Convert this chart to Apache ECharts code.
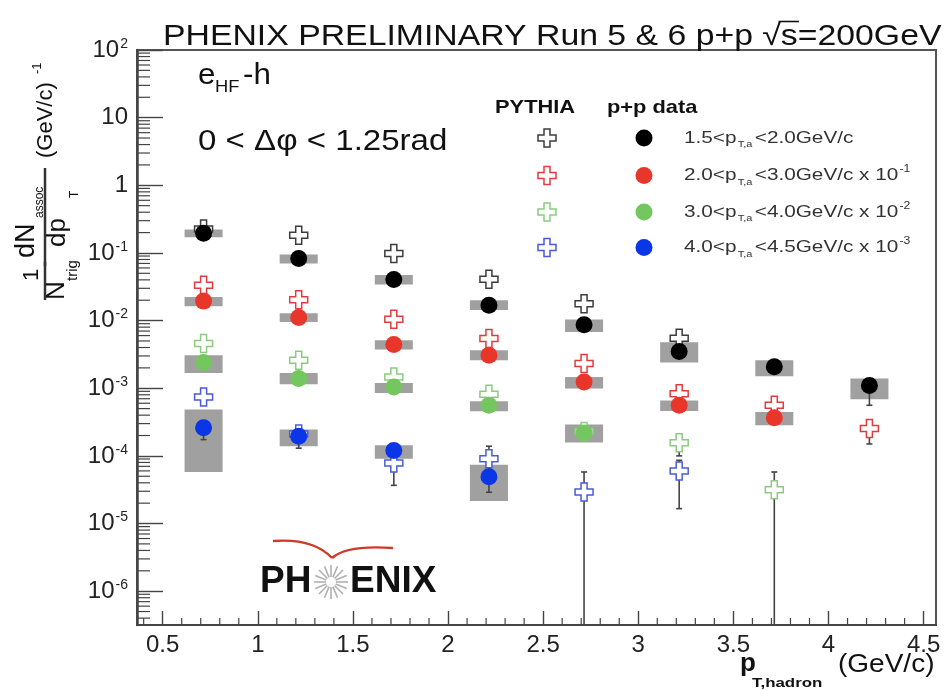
<!DOCTYPE html>
<html>
<head>
<meta charset="utf-8">
<script src="https://cdn.jsdelivr.net/npm/echarts@6/dist/echarts.min.js"></script>
<style>
  html, body { margin: 0; padding: 0; background: #fff; }
  #chart { width: 946px; height: 690px; }
</style>
</head>
<body>
<div id="chart"></div>
<script>
// Associated-hadron pT bin centres (GeV/c)
const ptHadron = [0.715, 1.215, 1.715, 2.215, 2.715, 3.215, 3.715, 4.215];

// p+p data (already multiplied by the legend scale factor)
const data15 = [0.196, 0.0826, 0.0405, 0.0169, 0.0087, 0.0035, 0.00207, 0.0011];
const data20 = [0.0194, 0.0111, 0.00443, 0.00308, 0.00124, 0.00056, 0.000365, null];
const data30 = [0.0024, 0.00139, 0.00104, 0.00056, 0.000218, null, null, null];
const data40 = [0.00026, 0.000195, 0.00012, 0.000049, null, null, null, null];

// systematic uncertainty bands (low / high)
const sys15Lo = [0.170, 0.070, 0.0342, 0.0143, 0.0068, 0.0024, 0.0015, 0.00069];
const sys15Hi = [0.223, 0.095, 0.047, 0.020, 0.0104, 0.0048, 0.0026, 0.00139];
const sys20Lo = [0.0163, 0.00957, 0.00373, 0.0026, 0.00099, 0.00046, 0.000284, null];
const sys20Hi = [0.0224, 0.01285, 0.00513, 0.00365, 0.00147, 0.00066, 0.000445, null];
const sys30Lo = [0.00168, 0.00115, 0.00085, 0.000457, 0.000158, null, null, null];
const sys30Hi = [0.00308, 0.00168, 0.0012, 0.00064, 0.00029, null, null, null];
const sys40Lo = [0.0000578, 0.000139, 0.000091, 0.0000216, null, null, null, null];
const sys40Hi = [0.000484, 0.000245, 0.000144, 0.000074, null, null, null, null];

// statistical error bars of the data (low / high)
const stat15Lo = [null, null, null, null, null, null, null, 0.00056];
const stat15Hi = [null, null, null, null, null, null, null, 0.0013];
const stat40Lo = [0.000174, 0.00013, null, 0.000029, null, null, null, null];
const stat40Hi = [0.00032, 0.000195, null, 0.00007, null, null, null, null];

// PYTHIA
const pythia15 = [0.225, 0.183, 0.0984, 0.041, 0.0178, 0.0055, null, null];
const pythia20 = [0.0334, 0.0203, 0.0105, 0.00543, 0.00232, 0.00083, 0.00056, 0.000253];
const pythia30 = [0.00458, 0.00259, 0.00147, 0.000815, 0.00023, 0.000156, 0.0000317, null];
const pythia40 = [0.00074, 0.00021, 0.0000785, 0.000091, 0.0000292, 0.00006, null, null];

// PYTHIA statistical error bars (1e-7 = runs below the frame)
const pythia20Lo = [null, null, null, null, null, null, null, 0.00015];
const pythia20Hi = [null, null, null, null, null, null, null, 0.0003];
const pythia30Lo = [null, null, null, null, null, 0.0001, 1e-7, null];
const pythia30Hi = [null, null, null, null, null, 0.00021, 0.0000578, null];
const pythia40Lo = [null, null, 0.0000367, 0.00006, 1e-7, 0.0000166, null, null];
const pythia40Hi = [null, null, 0.0001, 0.000139, 0.0000578, 0.000086, null, null];

// legend entries: trigger pT range and scale exponent
const legendRanges = [['1.5', '2.0', ''], ['2.0', '3.0', '-1'], ['3.0', '4.0', '-2'], ['4.0', '4.5', '-3']];

const FONT = '"Liberation Sans", Arial, Helvetica, sans-serif';
const X_MIN = 0.365, X_MAX = 4.565;
const Y_MIN = Math.pow(10, -6.5), Y_MAX = 100;
const BOX_HALF = 0.1;
const AXIS_COLOR = '#444';
const BOX_COLOR = '#a0a0a0';
const ERR_COLOR = '#444';
const CROSS = 'path://M1,0H2V1H3V2H2V3H1V2H0V1H1Z';

const groups = [
  { data: data15, lo: sys15Lo, hi: sys15Hi, sLo: stat15Lo, sHi: stat15Hi, py: pythia15, pLo: null, pHi: null, color: '#000000', pcolor: '#3c3c3c' },
  { data: data20, lo: sys20Lo, hi: sys20Hi, sLo: null, sHi: null, py: pythia20, pLo: pythia20Lo, pHi: pythia20Hi, color: '#e8362a', pcolor: '#e03c3c' },
  { data: data30, lo: sys30Lo, hi: sys30Hi, sLo: null, sHi: null, py: pythia30, pLo: pythia30Lo, pHi: pythia30Hi, color: '#74c75e', pcolor: '#8acb80' },
  { data: data40, lo: sys40Lo, hi: sys40Hi, sLo: stat40Lo, sHi: stat40Hi, py: pythia40, pLo: pythia40Lo, pHi: pythia40Hi, color: '#0b36e8', pcolor: '#4a5ad8' }
];

function rows3(a, b) {
  if (!a || !b) return [];
  return ptHadron.map((x, i) => [x, a[i], b[i]]).filter(r => r[1] != null && r[2] != null);
}
function points(v) {
  return ptHadron.map((x, i) => [x, v[i]]).filter(r => r[1] != null);
}

function boxItem(params, api) {
  const x = api.value(0);
  const p0 = api.coord([x - BOX_HALF, api.value(2)]);
  const p1 = api.coord([x + BOX_HALF, api.value(1)]);
  return { type: 'rect', shape: { x: p0[0], y: p0[1], width: p1[0] - p0[0], height: p1[1] - p0[1] },
           style: { fill: BOX_COLOR } };
}
function errItem(params, api) {
  const x = api.value(0);
  const loRaw = api.value(1);
  const lo = Math.max(loRaw, Y_MIN);
  const a = api.coord([x, api.value(2)]);
  const b = api.coord([x, lo]);
  const st = { stroke: ERR_COLOR, lineWidth: 1.6 };
  const kids = [
    { type: 'line', shape: { x1: a[0], y1: a[1], x2: b[0], y2: b[1] }, style: st },
    { type: 'line', shape: { x1: a[0] - 3, y1: a[1], x2: a[0] + 3, y2: a[1] }, style: st }
  ];
  if (loRaw > Y_MIN) kids.push({ type: 'line', shape: { x1: b[0] - 3, y1: b[1], x2: b[0] + 3, y2: b[1] }, style: st });
  return { type: 'group', children: kids };
}

// minor tick positions of both axes
const yMinorTicks = [];
for (let k = -7; k <= 1; k++) for (let m = 2; m <= 9; m++) {
  const v = m * Math.pow(10, k);
  if (v > Y_MIN && v < Y_MAX) yMinorTicks.push(v);
}
const xMinorTicks = [];
for (let i = 4; i <= 45; i++) if (i % 5 !== 0) xMinorTicks.push(i / 10);

const series = [];
groups.forEach(g => {
  series.push({ type: 'custom', renderItem: boxItem, data: rows3(g.lo, g.hi), z: 2, silent: true, encode: { x: 0, y: [1, 2] } });
  series.push({ type: 'custom', renderItem: errItem, data: rows3(g.pLo, g.pHi), z: 3, silent: true, encode: { x: 0, y: [1, 2] } });
  series.push({ type: 'custom', renderItem: errItem, data: rows3(g.sLo, g.sHi), z: 3, silent: true, encode: { x: 0, y: [1, 2] } });
});
groups.forEach(g => {
  series.push({ type: 'scatter', data: points(g.py), symbol: CROSS, symbolSize: 18, z: 4, silent: true,
    itemStyle: { color: '#ffffff', borderColor: g.pcolor, borderWidth: 1.5, opacity: 1 } });
});
groups.forEach(g => {
  series.push({ type: 'scatter', data: points(g.data), symbol: 'circle', symbolSize: 17, z: 5, silent: true,
    itemStyle: { color: g.color, opacity: 1 } });
});
series.push({ type: 'custom', silent: true, z: 6, clip: false, data: yMinorTicks.map(v => [X_MIN, v]),
  renderItem: (p, api) => { const c = api.coord([X_MIN, api.value(1)]);
    return { type: 'line', shape: { x1: c[0], y1: c[1], x2: c[0] + 13, y2: c[1] }, style: { stroke: AXIS_COLOR, lineWidth: 1.2 } }; } });
series.push({ type: 'custom', silent: true, z: 6, clip: false, data: xMinorTicks.map(v => [v, Y_MIN]),
  renderItem: (p, api) => { const c = api.coord([api.value(0), Y_MIN]);
    return { type: 'line', shape: { x1: c[0], y1: c[1], x2: c[0], y2: c[1] - 7 }, style: { stroke: AXIS_COLOR, lineWidth: 1.2 } }; } });

// ---------- text and decorations ----------
function txt(x, y, text, size, opts) {
  opts = opts || {};
  return { type: 'text', x: x, y: y, scaleX: opts.sx || 1, z: 20, silent: true,
    style: { text: text, font: (opts.bold ? 'bold ' : '') + size + 'px ' + FONT, fill: opts.fill || '#111',
             align: opts.align || 'left', verticalAlign: 'middle', rich: opts.rich } };
}
function crossPts(cx, cy, s) {
  const h = s / 2, t = s / 6;
  return [[cx - t, cy - h], [cx + t, cy - h], [cx + t, cy - t], [cx + h, cy - t], [cx + h, cy + t], [cx + t, cy + t],
          [cx + t, cy + h], [cx - t, cy + h], [cx - t, cy + t], [cx - h, cy + t], [cx - h, cy - t], [cx - t, cy - t]];
}
const measureCtx = document.createElement('canvas').getContext('2d');
function textWidth(text, font) { measureCtx.font = font; return measureCtx.measureText(text).width; }

const graphics = [];
// title, with the bar of the square root drawn over the "s"
const TITLE_HEAD = 'PHENIX PRELIMINARY Run 5 & 6 p+p \u221A';
const TITLE_TAIL = 's=200GeV';
const TITLE_FONT = '29px ' + FONT, TITLE_SX = 1.165, TITLE_X = 163;
graphics.push(txt(TITLE_X, 37, TITLE_HEAD + TITLE_TAIL, 29, { sx: TITLE_SX }));
const barX0 = TITLE_X + (textWidth(TITLE_HEAD, TITLE_FONT) - 2) * TITLE_SX;
const barX1 = TITLE_X + (textWidth(TITLE_HEAD + 's', TITLE_FONT) + 1) * TITLE_SX;
graphics.push({ type: 'line', z: 20, silent: true, shape: { x1: barX0, y1: 21.5, x2: barX1, y2: 21.5 }, style: { stroke: '#111', lineWidth: 1.6 } });

// annotations
graphics.push(txt(198, 76, 'e', 29, { sx: 1.08 }));
graphics.push(txt(215, 87, 'HF', 17, { sx: 1.08 }));
graphics.push(txt(243, 76, '-h', 29, { sx: 1.08 }));
graphics.push(txt(198, 142, '0 < \u0394\u03C6 < 1.25rad', 29, { sx: 1.14 }));

// legend
graphics.push(txt(495, 108, 'PYTHIA', 19, { bold: true, sx: 1.15 }));
graphics.push(txt(607, 108, 'p+p data', 19, { bold: true, sx: 1.15 }));
const legendY = [138, 175.5, 212, 247.5];
const richLegend = {
  t: { font: '17px ' + FONT, fill: '#333' },
  sub: { font: '9px ' + FONT, fill: '#333', padding: [14, 2, 0, 1] },
  sup: { font: '10px ' + FONT, fill: '#333', padding: [0, 0, 12, 1] }
};
groups.forEach((g, i) => {
  const y = legendY[i];
  graphics.push({ type: 'polygon', z: 20, silent: true, shape: { points: crossPts(547, y, 18) },
    style: { fill: '#fff', stroke: g.pcolor, lineWidth: 1.5 } });
  graphics.push({ type: 'circle', z: 20, silent: true, shape: { cx: 644, cy: y, r: 8.5 }, style: { fill: g.color } });
  const r = legendRanges[i];
  let s = '{t|' + r[0] + '<p}{sub|T,a}{t|<' + r[1] + 'GeV/c}';
  if (r[2]) s += '{t| x 10}{sup|' + r[2] + '}';
  graphics.push(txt(684, y, s, 17, { sx: 1.22, rich: richLegend, fill: '#333' }));
});

// y-axis title, written bottom-to-top
const yTitleParts = [
  { type: 'text', x: 35, y: 32, style: { text: '1', font: '22px ' + FONT, fill: '#111', align: 'center', verticalAlign: 'middle' } },
  { type: 'line', shape: { x1: 10, y1: 45, x2: 48, y2: 45 }, style: { stroke: '#333', lineWidth: 2.5 } },
  { type: 'text', x: 10, y: 57, style: { text: 'N', font: '26px ' + FONT, fill: '#111', align: 'left', verticalAlign: 'middle' } },
  { type: 'text', x: 29, y: 73, style: { text: 'trig', font: '15px ' + FONT, fill: '#111', align: 'left', verticalAlign: 'middle' } },
  { type: 'line', shape: { x1: 44, y1: 45, x2: 142, y2: 45 }, style: { stroke: '#333', lineWidth: 2.5 } },
  { type: 'text', x: 52, y: 27, style: { text: 'dN', font: '27px ' + FONT, fill: '#111', align: 'left', verticalAlign: 'middle' } },
  { type: 'text', x: 92, y: 40, style: { text: 'assoc', font: '12px ' + FONT, fill: '#111', align: 'left', verticalAlign: 'middle' } },
  { type: 'text', x: 63, y: 58, style: { text: 'dp', font: '26px ' + FONT, fill: '#111', align: 'left', verticalAlign: 'middle' } },
  { type: 'text', x: 112, y: 75, style: { text: 'T', font: '12px ' + FONT, fill: '#111', align: 'left', verticalAlign: 'middle' } },
  { type: 'text', x: 152, y: 46, style: { text: '(GeV/c)', font: '22px ' + FONT, fill: '#111', align: 'left', verticalAlign: 'middle' } },
  { type: 'text', x: 236, y: 37, style: { text: '-1', font: '13px ' + FONT, fill: '#111', align: 'left', verticalAlign: 'middle' } }
];
graphics.push({ type: 'group', x: 0, y: 310, rotation: Math.PI / 2, z: 20, silent: true, children: yTitleParts });

// x-axis title
graphics.push(txt(740, 664, 'p', 26, { bold: true }));
graphics.push(txt(752, 683, 'T,hadron', 13, { bold: true, sx: 1.3 }));
graphics.push(txt(838, 665, '(GeV/c)', 25, { sx: 1.12 }));

// PHENIX logo
graphics.push(txt(260, 582, 'PH', 37, { bold: true }));
graphics.push(txt(350, 582, 'ENIX', 37, { bold: true }));
const rays = [];
for (let i = 0; i < 16; i++) {
  const a = i * Math.PI / 8;
  rays.push({ type: 'line', shape: { x1: 331 + 5 * Math.cos(a), y1: 582 + 5 * Math.sin(a), x2: 331 + 17 * Math.cos(a), y2: 582 + 17 * Math.sin(a) },
              style: { stroke: '#b0b0b0', lineWidth: 1.6 } });
}
graphics.push({ type: 'group', z: 20, silent: true, children: rays });
graphics.push({ type: 'bezierCurve', z: 20, silent: true,
  shape: { x1: 273, y1: 541, cpx1: 300, cpy1: 539, cpx2: 320, cpy2: 545, x2: 332, y2: 558 },
  style: { stroke: '#cc3a2a', lineWidth: 2.4, fill: null } });
graphics.push({ type: 'bezierCurve', z: 20, silent: true,
  shape: { x1: 332, y1: 558, cpx1: 342, cpy1: 549, cpx2: 365, cpy2: 546, x2: 393, y2: 548 },
  style: { stroke: '#cc3a2a', lineWidth: 2.4, fill: null } });

const chart = echarts.init(document.getElementById('chart'));
chart.setOption({
  animation: false,
  backgroundColor: '#ffffff',
  grid: { left: 137, right: 10, top: 50, bottom: 65, show: true, borderColor: '#555', borderWidth: 2 },
  xAxis: {
    type: 'value', min: X_MIN, max: X_MAX, splitNumber: 8,
    axisLine: { show: true, lineStyle: { color: AXIS_COLOR, width: 2 } },
    axisTick: { show: true, inside: true, length: 14, lineStyle: { color: AXIS_COLOR, width: 1.4 } },
    axisLabel: { show: true, showMinLabel: false, showMaxLabel: false, fontSize: 24, color: '#222', fontFamily: FONT, margin: 8 },
    splitLine: { show: false }
  },
  yAxis: {
    type: 'log', logBase: 10, min: Y_MIN, max: Y_MAX,
    axisLine: { show: true, lineStyle: { color: AXIS_COLOR, width: 2.5 } },
    axisTick: { show: true, inside: true, length: 26, lineStyle: { color: AXIS_COLOR, width: 1.4 } },
    axisLabel: {
      show: true, showMinLabel: false, margin: 9,
      formatter: v => {
        const e = Math.round(Math.log10(v));
        if (e === 0) return '{b|1}';
        if (e === 1) return '{b|10}';
        return '{b|10}{s|' + e + '}';
      },
      rich: {
        b: { fontSize: 24, color: '#222', fontFamily: FONT },
        s: { fontSize: 14, color: '#222', fontFamily: FONT, padding: [0, 0, 12, 1] }
      }
    },
    splitLine: { show: false }
  },
  series: series,
  graphic: graphics
});
</script>
</body>
</html>
